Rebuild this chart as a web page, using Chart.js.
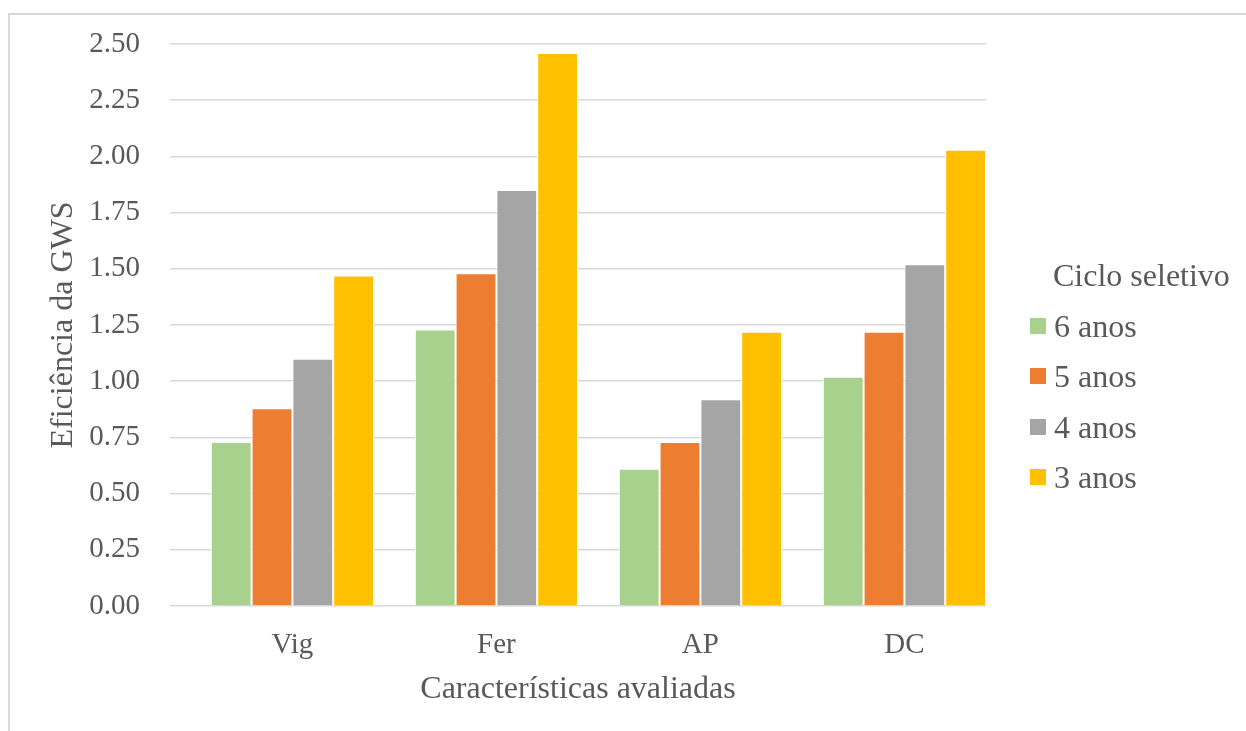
<!DOCTYPE html>
<html>
<head>
<meta charset="utf-8">
<script src="https://cdn.jsdelivr.net/npm/chart.js@4"></script>
<style>
  body { margin: 0; overflow: hidden; background: #fff; }
  #wrap { position: relative; width: 1246px; height: 731px; }
  #frame { position: absolute; left: 8px; top: 13px; width: 1300px; height: 800px;
           border-left: 2px solid #d9d9d9; border-top: 2px solid #d9d9d9; pointer-events: none; }
  #legenda { position: absolute; left: 1030px; top: 250px; font-family: 'Liberation Serif', serif;
             font-size: 32px; color: #595959; line-height: 50.5px; }
  #legenda .tit { padding-left: 23px; }
  #legenda .item { display: flex; align-items: center; }
  #legenda .box { width: 16px; height: 16px; margin-right: 8px; }
</style>
</head>
<body>
<div id="wrap">
  <canvas id="myChart" width="1246" height="731"></canvas>
  <div id="frame"></div>
  <div id="legenda"></div>
</div>
<script>
// Dados
const categorias = ['Vig', 'Fer', 'AP', 'DC'];
const seisAnos = [0.73, 1.23, 0.61, 1.02];
const cincoAnos = [0.88, 1.48, 0.73, 1.22];
const quatroAnos = [1.10, 1.85, 0.92, 1.52];
const tresAnos = [1.47, 2.46, 1.22, 2.03];
const nomesSeries = ['6 anos', '5 anos', '4 anos', '3 anos'];
const cores = ['#A9D18E', '#ED7D31', '#A5A5A5', '#FFC000'];

const fonte = 'Liberation Serif';
const cinza = '#595959';

// eixo x numérico (índice da categoria) para deslocar os grupos como no original
const valores = [seisAnos, cincoAnos, quatroAnos, tresAnos];
const datasets = valores.map((v, i) => ({
    label: nomesSeries[i],
    data: v.map((y, k) => ({ x: k, y: y })),
    backgroundColor: cores[i],
    borderColor: '#ffffff',
    borderWidth: 1,
    categoryPercentage: 0.8,
    barPercentage: 1.0
}));

const ctx = document.getElementById('myChart').getContext('2d');
const myChart = new Chart(ctx, {
    type: 'bar',
    data: { datasets: datasets },
    options: {
        responsive: false,
        animation: false,
        layout: { padding: { left: 20, right: 260, top: 44, bottom: 18 } },
        plugins: {
            legend: { display: false },
            tooltip: { enabled: true }
        },
        scales: {
            x: {
                type: 'linear',
                min: -0.6,
                max: 3.4,
                offset: false,
                grid: { display: false, offset: false },
                border: { display: false },
                afterBuildTicks: (s) => { s.ticks = categorias.map((c, i) => ({ value: i })); },
                ticks: {
                    color: cinza, font: { family: fonte, size: 29 }, padding: 14, autoSkip: false,
                    callback: (v) => categorias[v] ?? ''
                },
                title: {
                    display: true, text: 'Características avaliadas', color: cinza,
                    font: { family: fonte, size: 32 }, padding: { top: 8, bottom: 4 }
                },
                afterFit: (s) => { s.height = 107; }
            },
            y: {
                min: 0,
                max: 2.5,
                border: { display: false },
                grid: { color: '#d9d9d9', lineWidth: 1.5, drawTicks: false },
                ticks: {
                    stepSize: 0.25, color: cinza, font: { family: fonte, size: 29 }, padding: 30,
                    callback: (v) => Number(v).toFixed(2)
                },
                title: {
                    display: true, text: 'Eficiência da GWS', color: cinza,
                    font: { family: fonte, size: 32 }, padding: { top: 24, bottom: 10 }
                },
                afterFit: (s) => { s.width = 150; s.paddingTop = 0; s.paddingBottom = 0; }
            }
        }
    }
});

// Legenda em HTML, à direita
const leg = document.getElementById('legenda');
let html = '<div class="tit">Ciclo seletivo</div>';
nomesSeries.forEach((n, i) => {
    html += '<div class="item"><span class="box" style="background:' + cores[i] + '"></span>' + n + '</div>';
});
leg.innerHTML = html;
</script>
</body>
</html>
